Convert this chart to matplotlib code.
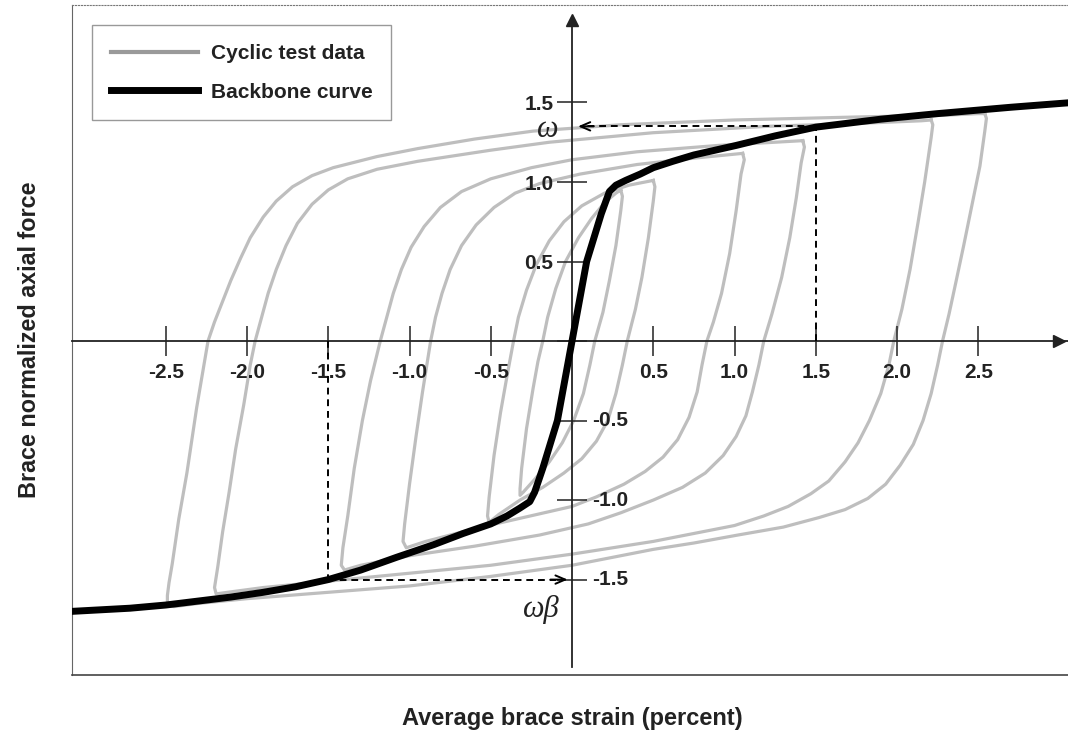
import matplotlib
matplotlib.use('Agg')
import matplotlib.pyplot as plt
from matplotlib.lines import Line2D

plt.rcParams['font.family'] = ['Liberation Sans', 'DejaVu Sans']
plt.rcParams['font.weight'] = 'bold'

# backbone curve (strain %, normalized force)
backbone_x = [-3.08, -2.72, -2.50, -2.30, -2.10, -1.90, -1.70, -1.50, -1.30, -1.08, -0.85, -0.67,
              -0.50, -0.40, -0.32, -0.26, -0.23, -0.18, -0.09, 0.00, 0.09, 0.18, 0.23, 0.27,
              0.33, 0.42, 0.50, 0.62, 0.75, 0.88, 1.01, 1.25, 1.50, 1.70, 1.90, 2.25, 2.70, 3.08]
backbone_y = [-1.70, -1.68, -1.66, -1.635, -1.61, -1.58, -1.545, -1.50, -1.44, -1.36, -1.28, -1.21,
              -1.15, -1.10, -1.05, -1.01, -0.95, -0.80, -0.50, 0.00, 0.50, 0.80, 0.94, 0.98,
              1.01, 1.05, 1.09, 1.13, 1.17, 1.20, 1.23, 1.29, 1.345, 1.37, 1.395, 1.43, 1.47, 1.50]

# cyclic test loops, one list pair per strain amplitude
loop1_x = [0.30, 0.31, 0.30, 0.27, 0.23, 0.19, 0.14, 0.11, 0.07, 0.01, -0.06, -0.14, -0.23, -0.30, -0.32,
           -0.32, -0.31, -0.28, -0.24, -0.21, -0.18, -0.15, -0.10, -0.04, 0.04, 0.12, 0.20, 0.27, 0.30]
loop1_y = [0.95, 0.91, 0.82, 0.60, 0.38, 0.18, 0.00, -0.15, -0.33, -0.50, -0.64, -0.76, -0.87, -0.95, -0.97,
           -0.93, -0.80, -0.55, -0.30, -0.13, 0.00, 0.15, 0.33, 0.50, 0.65, 0.77, 0.87, 0.93, 0.95]

loop2_x = [0.50, 0.51, 0.50, 0.47, 0.43, 0.39, 0.34, 0.31, 0.27, 0.22, 0.15, 0.06, -0.05, -0.18, -0.32, -0.45,
           -0.51, -0.52, -0.51, -0.48, -0.44, -0.40, -0.36, -0.33, -0.28, -0.22, -0.14, -0.05, 0.06, 0.20,
           0.35, 0.50]
loop2_y = [1.01, 0.97, 0.88, 0.65, 0.40, 0.20, 0.00, -0.15, -0.33, -0.50, -0.63, -0.74, -0.83, -0.92, -1.00, -1.09,
           -1.14, -1.10, -0.98, -0.72, -0.45, -0.22, 0.00, 0.15, 0.32, 0.48, 0.63, 0.75, 0.85, 0.93,
           0.98, 1.01]

loop3_x = [1.05, 1.06, 1.04, 1.01, 0.97, 0.92, 0.87, 0.83, 0.80, 0.77, 0.72, 0.65, 0.56, 0.45, 0.32, 0.15,
           0.00, -0.30, -0.60, -0.90, -1.02, -1.04, -1.03, -1.00, -0.96, -0.92, -0.87, -0.84, -0.80, -0.75,
           -0.68, -0.59, -0.48, -0.35, -0.20, 0.05, 0.40, 0.75, 1.05]
loop3_y = [1.18, 1.14, 1.05, 0.82, 0.55, 0.30, 0.12, 0.00, -0.15, -0.32, -0.48, -0.62, -0.73, -0.82, -0.90, -0.98,
           -1.04, -1.11, -1.18, -1.26, -1.30, -1.26, -1.15, -0.90, -0.60, -0.32, 0.00, 0.15, 0.30, 0.45,
           0.60, 0.73, 0.84, 0.93, 0.99, 1.05, 1.11, 1.15, 1.18]

loop4_x = [1.42, 1.43, 1.41, 1.38, 1.34, 1.29, 1.23, 1.18, 1.15, 1.11, 1.07, 1.01, 0.93, 0.82, 0.68, 0.50,
           0.30, 0.10, -0.20, -0.60, -1.00, -1.30, -1.40, -1.42, -1.41, -1.38, -1.34, -1.29, -1.24, -1.18,
           -1.14, -1.10, -1.05, -0.99, -0.91, -0.81, -0.68, -0.50, -0.25, 0.00, 0.40, 0.90, 1.42]
loop4_y = [1.26, 1.22, 1.12, 0.90, 0.65, 0.40, 0.17, 0.00, -0.15, -0.32, -0.47, -0.60, -0.72, -0.83, -0.92, -1.00,
           -1.08, -1.15, -1.22, -1.29, -1.35, -1.41, -1.44, -1.41, -1.30, -1.10, -0.80, -0.50, -0.25, 0.00,
           0.15, 0.30, 0.45, 0.59, 0.72, 0.84, 0.94, 1.02, 1.09, 1.14, 1.19, 1.23, 1.26]

loop5_x = [2.21, 2.22, 2.21, 2.17, 2.13, 2.08, 2.03, 1.98, 1.95, 1.90, 1.83, 1.76, 1.68, 1.58, 1.47, 1.33,
           1.18, 1.00, 0.75, 0.50, 0.00, -0.50, -1.00, -1.50, -1.90, -2.12, -2.19, -2.20, -2.18, -2.15,
           -2.11, -2.07, -2.02, -1.98, -1.95, -1.91, -1.87, -1.82, -1.76, -1.69, -1.60, -1.50, -1.38, -1.20,
           -0.95, -0.50, -0.14, 0.50, 1.20, 1.80, 2.15, 2.21]
loop5_y = [1.39, 1.36, 1.28, 1.00, 0.75, 0.45, 0.20, 0.00, -0.15, -0.33, -0.50, -0.64, -0.76, -0.88, -0.96, -1.04,
           -1.10, -1.16, -1.21, -1.26, -1.34, -1.41, -1.46, -1.51, -1.55, -1.58, -1.59, -1.55, -1.42, -1.20,
           -0.95, -0.68, -0.40, -0.15, 0.00, 0.15, 0.30, 0.45, 0.60, 0.74, 0.86, 0.95, 1.02, 1.08,
           1.13, 1.20, 1.25, 1.31, 1.35, 1.37, 1.385, 1.39]

loop6_x = [2.54, 2.55, 2.54, 2.51, 2.46, 2.41, 2.36, 2.32, 2.28, 2.25, 2.21, 2.16, 2.10, 2.02, 1.93, 1.82,
           1.68, 1.52, 1.30, 1.02, 0.75, 0.50, 0.00, -0.50, -1.00, -1.50, -2.00, -2.30, -2.45, -2.49,
           -2.49, -2.48, -2.46, -2.42, -2.37, -2.31, -2.24, -2.20, -2.15, -2.10, -2.04, -1.98, -1.90, -1.82,
           -1.72, -1.60, -1.47, -1.20, -0.95, -0.60, -0.24, 0.30, 1.00, 1.80, 2.30, 2.50, 2.54]
loop6_y = [1.43, 1.40, 1.32, 1.10, 0.85, 0.60, 0.36, 0.17, 0.00, -0.15, -0.33, -0.50, -0.65, -0.78, -0.90, -0.99,
           -1.06, -1.11, -1.17, -1.22, -1.27, -1.31, -1.41, -1.48, -1.54, -1.58, -1.62, -1.65, -1.67, -1.66,
           -1.60, -1.52, -1.40, -1.12, -0.83, -0.42, 0.00, 0.12, 0.25, 0.38, 0.52, 0.65, 0.78, 0.88,
           0.97, 1.04, 1.09, 1.16, 1.21, 1.27, 1.32, 1.36, 1.39, 1.41, 1.42, 1.43, 1.43]

loops = [(loop1_x, loop1_y), (loop2_x, loop2_y), (loop3_x, loop3_y),
         (loop4_x, loop4_y), (loop5_x, loop5_y), (loop6_x, loop6_y)]

xtick_vals = [-2.5, -2.0, -1.5, -1.0, -0.5, 0.0, 0.5, 1.0, 1.5, 2.0, 2.5]
ytick_vals = [-1.5, -1.0, -0.5, 0.0, 0.5, 1.0, 1.5]

omega = 1.35
omega_beta = -1.50
strain_ref = 1.5

fig = plt.figure(figsize=(10.68, 7.31), dpi=100)
rect = [72 / 1068, 56 / 731, 996 / 1068, 670 / 731]

# outer frame
frame = fig.add_axes(rect)
frame.set_xticks([])
frame.set_yticks([])
frame.spines['right'].set_visible(False)
frame.spines['top'].set_linestyle(':')
frame.spines['top'].set_color('#777777')
frame.spines['left'].set_color('#666666')
frame.spines['bottom'].set_color('#444444')
frame.spines['bottom'].set_linewidth(1.2)

ax = fig.add_axes(rect)
ax.patch.set_alpha(0)
ax.set_xlim(-3.077, 3.052)
ax.set_ylim(-2.10, 2.113)

for lx, ly in loops:
    ax.plot(lx, ly, color='#bebebe', lw=2.3, solid_joinstyle='round', zorder=1)

ax.plot(backbone_x, backbone_y, color='black', lw=5, solid_joinstyle='round',
        solid_capstyle='butt', zorder=4)

# dashed guides
dash = (0, (3.5, 2.5))
ax.plot([strain_ref, strain_ref], [0, omega], color='black', ls=dash, lw=1.4, zorder=3)
ax.plot([strain_ref, 0.08], [omega, omega], color='black', ls=dash, lw=1.4, zorder=3)
ax.annotate('', xy=(0.02, omega), xytext=(0.15, omega),
            arrowprops=dict(arrowstyle='->,head_length=0.7,head_width=0.3', lw=1.4, color='black'))
ax.plot([-strain_ref, -strain_ref], [0, omega_beta], color='black', ls=dash, lw=1.4, zorder=3)
ax.plot([-strain_ref, -0.1], [omega_beta, omega_beta], color='black', ls=dash, lw=1.4, zorder=3)
ax.annotate('', xy=(-0.01, omega_beta), xytext=(-0.15, omega_beta),
            arrowprops=dict(arrowstyle='->,head_length=0.7,head_width=0.3', lw=1.4, color='black'))

ax.text(-0.148, omega - 0.02, 'ω', fontfamily='Liberation Serif', style='italic',
        fontweight='normal', fontsize=22, ha='center', va='center', color='#222222')
ax.text(-0.19, omega_beta - 0.19, 'ωβ', fontfamily='Liberation Serif', style='italic',
        fontweight='normal', fontsize=22, ha='center', va='center', color='#222222')

# centred axes
for side in ['top', 'right']:
    ax.spines[side].set_visible(False)
ax.spines['left'].set_position(('data', 0))
ax.spines['bottom'].set_position(('data', 0))
ax.spines['left'].set_bounds(-2.05, 2.0)
ax.spines['left'].set_color('#222222')
ax.spines['bottom'].set_color('#222222')
ax.spines['left'].set_linewidth(1.3)
ax.spines['bottom'].set_linewidth(1.3)
ax.plot(0, 0.978, '^', color='#222222', ms=9, transform=ax.get_xaxis_transform(), clip_on=False)
ax.plot(0.991, 0, '>', color='#222222', ms=9, transform=ax.get_yaxis_transform(), clip_on=False)

ax.set_xticks(xtick_vals)
ax.set_xticklabels(['' if v == 0 else f'{v:.1f}' for v in xtick_vals])
ax.set_yticks(ytick_vals)
ax.set_yticklabels([f'{v:.1f}' if v > 0 else '' for v in ytick_vals])
ax.tick_params(axis='both', direction='inout', length=21, width=1.1, color='#222222',
               labelsize=15, labelcolor='#222222')
ax.tick_params(axis='x', pad=5)
ax.tick_params(axis='y', pad=3)
for v in ytick_vals:
    if v < 0:
        ax.text(0.125, v, f'{v:.1f}', ha='left', va='center', fontsize=15, color='#222222')

lines = [Line2D([0], [0], color='#9a9a9a', lw=3),
         Line2D([0], [0], color='black', lw=5)]
labels = ['Cyclic test data', 'Backbone curve']
leg = ax.legend(lines, labels, loc='upper left', bbox_to_anchor=(0.02, 0.97), borderaxespad=0,
                fancybox=False, edgecolor='#999999', handlelength=4.2, handletextpad=0.6,
                fontsize=15, borderpad=0.9, labelspacing=0.95, framealpha=1)
leg.get_frame().set_linewidth(1.0)
for t in leg.get_texts():
    t.set_color('#222222')

fig.text(572 / 1068, 1 - 718 / 731, 'Average brace strain (percent)', ha='center', va='center',
         fontsize=17, color='#222222')
fig.text(30 / 1068, 1 - 340 / 731, 'Brace normalized axial force', ha='center', va='center',
         rotation=90, fontsize=16.8, color='#222222')

fig.savefig('out.png', dpi=100)
